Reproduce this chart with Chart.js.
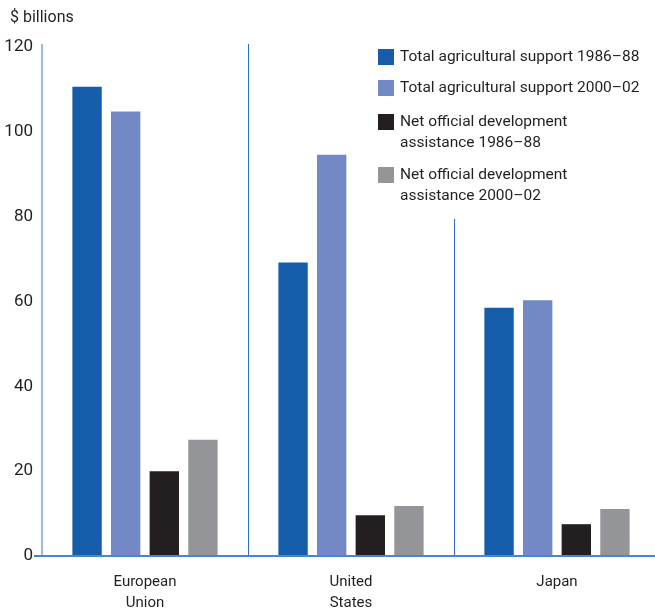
<!DOCTYPE html>
<html>
<head>
<meta charset="utf-8">
<script src="https://cdn.jsdelivr.net/npm/chart.js@4"></script>
<style>
  html, body { margin: 0; padding: 0; background: #fff; overflow: hidden; }
  canvas { display: block; }
</style>
</head>
<body>
<canvas id="grafico" width="660" height="613"></canvas>
<script>
// Datos del gráfico ($ miles de millones)
const categorias = [['European', 'Union'], ['United', 'States'], ['Japan']];
const totalAgri8688 = [110.6, 69.2, 58.5];
const totalAgri0002 = [104.8, 94.6, 60.3];
const ayudaNeta8688 = [20.0, 9.6, 7.5];
const ayudaNeta0002 = [27.4, 11.8, 11.1];
const ticksY = [0, 20, 40, 60, 80, 100, 120];

const colores = ['#155caa', '#7289c6', '#231f20', '#939598'];
const etiquetas = [
    ['Total agricultural support 1986\u201388'],
    ['Total agricultural support 2000\u201302'],
    ['Net official development', 'assistance 1986\u201388'],
    ['Net official development', 'assistance 2000\u201302']
];
const fuente = "Roboto, 'Liberation Sans', sans-serif";

// Ejes, separadores, título y leyenda dibujados a mano
const decoraciones = {
    id: 'decoraciones',
    afterDraw(chart) {
        const ctx = chart.ctx;
        const area = chart.chartArea;
        const x = chart.scales.x;
        ctx.save();

        // Eje vertical
        ctx.strokeStyle = '#9dbde0';
        ctx.lineWidth = 2;
        ctx.beginPath();
        ctx.moveTo(area.left, area.top - 3);
        ctx.lineTo(area.left, area.bottom);
        ctx.stroke();

        // Separadores entre regiones
        ctx.strokeStyle = '#2f6fc0';
        ctx.lineWidth = 1;
        const inicios = [area.top - 3, 219];
        for (let i = 0; i < categorias.length - 1; i++) {
            const bx = Math.round((x.getPixelForValue(i) + x.getPixelForValue(i + 1)) / 2) + 0.5;
            ctx.beginPath();
            ctx.moveTo(bx, inicios[i]);
            ctx.lineTo(bx, area.bottom);
            ctx.stroke();
        }

        // Línea base
        ctx.strokeStyle = '#4a86c8';
        ctx.lineWidth = 2;
        ctx.beginPath();
        ctx.moveTo(area.left - 8, area.bottom);
        ctx.lineTo(chart.width, area.bottom);
        ctx.stroke();

        // Unidad
        ctx.fillStyle = '#231f20';
        ctx.font = '16px ' + fuente;
        ctx.textAlign = 'left';
        ctx.textBaseline = 'middle';
        ctx.fillText('$ billions', 10, 18);

        // Leyenda
        const filas = [57, 88, 122, 175];
        ctx.font = '15.5px ' + fuente;
        chart.data.datasets.forEach((ds, i) => {
            ctx.fillStyle = ds.backgroundColor;
            ctx.fillRect(378, filas[i] - 8, 16, 16);
            ctx.fillStyle = '#231f20';
            etiquetas[i].forEach((linea, j) => {
                ctx.fillText(linea, 400, filas[i] + j * 21);
            });
        });
        ctx.restore();
    }
};

new Chart(document.getElementById('grafico'), {
    type: 'bar',
    data: {
        labels: categorias,
        datasets: [
            { label: etiquetas[0].join(' '), data: totalAgri8688, backgroundColor: colores[0] },
            { label: etiquetas[1].join(' '), data: totalAgri0002, backgroundColor: colores[1] },
            { label: etiquetas[2].join(' '), data: ayudaNeta8688, backgroundColor: colores[2] },
            { label: etiquetas[3].join(' '), data: ayudaNeta0002, backgroundColor: colores[3] }
        ]
    },
    options: {
        responsive: false,
        animation: false,
        layout: { padding: { top: 47, right: 0, bottom: 0, left: 0 } },
        plugins: {
            legend: { display: false },
            tooltip: { enabled: false }
        },
        datasets: {
            bar: { barPercentage: 0.76, categoryPercentage: 0.75 }
        },
        scales: {
            x: {
                grid: { display: false, drawTicks: false },
                border: { display: false },
                ticks: {
                    color: '#231f20',
                    padding: 16,
                    maxRotation: 0,
                    font: { family: fuente, size: 15, lineHeight: 1.4 }
                },
                afterFit(scale) { scale.height = 57; }
            },
            y: {
                min: 0,
                max: 120,
                afterBuildTicks(scale) { scale.ticks = ticksY.map(v => ({ value: v })); },
                grid: { display: false, drawTicks: false },
                border: { display: false },
                ticks: {
                    color: '#231f20',
                    padding: 9,
                    font: { family: fuente, size: 17 }
                },
                afterFit(scale) { scale.width = 42; }
            }
        }
    },
    plugins: [decoraciones]
});
</script>
</body>
</html>
